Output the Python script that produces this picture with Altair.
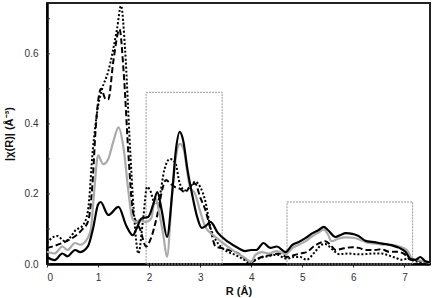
import altair as alt
import pandas as pd

# ---- data ----
black_r = [0,0.15,0.3,0.4,0.55,0.65,0.8,0.9,1.0,1.05,
           1.2,1.4,1.55,1.68,1.75,1.85,1.98,2.08,2.16,2.25,
           2.35,2.45,2.52,2.6,2.67,2.75,2.84,2.93,3.03,3.12,
           3.2,3.35,3.55,3.75,3.88,4.0,4.1,4.24,4.37,4.5,
           4.67,4.8,4.93,5.06,5.2,5.32,5.42,5.5,5.65,5.75,
           5.85,5.98,6.1,6.24,6.37,6.5,6.63,6.76,6.9,7.02,
           7.12,7.22,7.31,7.41,7.5]
black_y = [0.02,0.011,0.03,0.022,0.04,0.034,0.05,0.1,0.17,0.177,
           0.14,0.163,0.11,0.082,0.1,0.13,0.134,0.17,0.205,0.15,
           0.077,0.2,0.32,0.377,0.35,0.27,0.2,0.14,0.103,0.11,
           0.12,0.088,0.063,0.045,0.037,0.04,0.04,0.06,0.046,0.05,
           0.034,0.054,0.063,0.074,0.088,0.097,0.106,0.097,0.077,0.083,
           0.088,0.086,0.08,0.066,0.063,0.06,0.057,0.053,0.046,0.035,
           0.014,0.012,0.02,0.008,0.005]

gray_r = [0,0.15,0.3,0.4,0.55,0.65,0.8,0.86,0.92,1.0,
          1.1,1.2,1.3,1.4,1.5,1.6,1.67,1.75,1.82,1.94,
          2.04,2.12,2.2,2.28,2.35,2.45,2.52,2.6,2.67,2.8,
          2.9,3.0,3.1,3.2,3.3,3.5,3.69,3.88,4.0,4.08,
          4.2,4.35,4.5,4.67,4.8,4.93,5.06,5.2,5.32,5.42,
          5.5,5.57,5.7,5.85,6.0,6.15,6.3,6.45,6.6,6.75,
          6.9,7.05,7.15,7.3,7.5]
gray_y = [0.035,0.03,0.05,0.04,0.06,0.055,0.075,0.1,0.2,0.31,
          0.285,0.3,0.35,0.39,0.33,0.2,0.13,0.12,0.126,0.12,
          0.13,0.19,0.145,0.08,0.02,0.2,0.3,0.343,0.33,0.22,
          0.2,0.15,0.106,0.089,0.077,0.054,0.034,0.017,0.006,0.026,
          0.034,0.03,0.037,0.028,0.045,0.055,0.065,0.08,0.09,0.098,
          0.085,0.065,0.072,0.076,0.075,0.068,0.06,0.058,0.055,0.055,
          0.05,0.04,0.015,0.01,0.003]

dashed_r = [0,0.15,0.3,0.45,0.6,0.7,0.8,0.85,0.9,0.95,
            1.06,1.15,1.2,1.3,1.42,1.5,1.6,1.68,1.75,1.82,
            1.94,2.02,2.16,2.27,2.33,2.41,2.5,2.6,2.7,2.8,
            2.9,3.0,3.1,3.2,3.3,3.43,3.55,3.75,3.88,4.0,
            4.1,4.2,4.35,4.55,4.7,4.83,4.96,5.1,5.22,5.38,
            5.45,5.55,5.65,5.82,5.98,6.1,6.25,6.42,6.55,6.7,
            6.86,7.0,7.12,7.22,7.31,7.5]
dashed_y = [0.046,0.052,0.06,0.07,0.085,0.1,0.12,0.16,0.25,0.38,
            0.5,0.47,0.47,0.58,0.67,0.55,0.3,0.15,0.12,0.1,
            0.05,0.068,0.14,0.22,0.24,0.23,0.22,0.215,0.205,0.22,
            0.23,0.19,0.155,0.1,0.05,0.045,0.04,0.03,0.015,0.005,
            0.013,0.02,0.025,0.03,0.02,0.025,0.03,0.035,0.05,0.062,
            0.065,0.055,0.04,0.045,0.048,0.046,0.04,0.04,0.042,0.035,
            0.035,0.028,0.012,0.012,0.008,0.004]

dotted_r = [0,0.1,0.2,0.35,0.45,0.55,0.7,0.8,0.9,1.0,
            1.08,1.2,1.37,1.45,1.53,1.62,1.7,1.79,1.88,1.96,
            2.02,2.12,2.2,2.3,2.41,2.51,2.6,2.7,2.8,2.9,
            3.0,3.1,3.2,3.3,3.4,3.5,3.7,3.85,3.95,4.05,
            4.2,4.35,4.5,4.6,4.7,4.83,4.96,5.08,5.25,5.38,
            5.45,5.6,5.72,5.9,6.05,6.2,6.38,6.55,6.7,6.82,
            6.95,7.08,7.2,7.5]
dotted_y = [0.06,0.075,0.08,0.065,0.075,0.095,0.11,0.15,0.33,0.45,
            0.5,0.55,0.67,0.737,0.61,0.35,0.15,0.03,0.125,0.22,
            0.21,0.17,0.19,0.27,0.3,0.29,0.23,0.21,0.22,0.235,
            0.22,0.18,0.105,0.07,0.05,0.038,0.025,0.013,0.004,0.01,
            0.018,0.023,0.027,0.02,0.015,0.02,0.02,0.012,0.035,0.055,
            0.057,0.04,0.028,0.03,0.028,0.028,0.03,0.03,0.024,0.018,
            0.012,0.016,0.008,0.003]

# highlighted regions (dotted boxes)
box_x0 = [1.94, 4.70]
box_x1 = [3.43, 7.16]
box_y0 = [0.0, 0.0]
box_y1 = [0.49, 0.177]

y_ticks = [0, 0.1, 0.2, 0.3, 0.4, 0.5, 0.6, 0.7]
y_labels = [0, 0.2, 0.4, 0.6]
x_labels = [0, 1, 2, 3, 4, 5, 6, 7]

FONT = "Liberation Sans"
xs = alt.Scale(domain=[0, 7.5], nice=False, zero=False)
ys = alt.Scale(domain=[0, 0.745], nice=False)

x_axis = alt.Axis(title="R (Å)", values=x_labels, format="d",
                  grid=False, domainColor="black", domainWidth=2.5,
                  tickColor="#333", tickSize=3, labelFont=FONT,
                  labelFontSize=10, labelColor="#333", labelPadding=5,
                  titleFont=FONT, titleFontSize=11, titleFontWeight="bold",
                  titleColor="#111", titlePadding=3)
y_axis = alt.Axis(title="|χ(R)| (Å⁻³)", values=y_labels, grid=False,
                  domainColor="black", domainWidth=2.5, tickSize=0,
                  labelFont=FONT, labelFontSize=10, labelColor="#333",
                  labelPadding=9, titleFont=FONT, titleFontSize=11,
                  titleFontWeight="bold", titleColor="#111",
                  titlePadding=10)


def series(r, y):
    return pd.DataFrame({"R": r, "v": y})


boxes = alt.Chart(pd.DataFrame({"R": box_x0, "x1": box_x1,
                                "v": box_y0, "y1": box_y1})).mark_rect(
    fill=None, stroke="#999999", strokeWidth=1, strokeDash=[2, 1]
).encode(
    x=alt.X("R:Q", scale=xs, axis=x_axis),
    x2="x1:Q",
    y=alt.Y("v:Q", scale=ys, axis=y_axis),
    y2="y1:Q",
)

ticks = alt.Chart(pd.DataFrame({"v": y_ticks})).mark_rule(color="#333", strokeWidth=1).encode(
    y=alt.Y("v:Q", scale=ys, axis=y_axis),
    x=alt.value(0),
    x2=alt.value(3),
)


def line(r, y, color, width, dash=None):
    kw = dict(color=color, strokeWidth=width, interpolate="monotone")
    if dash:
        kw["strokeDash"] = dash
    return alt.Chart(series(r, y)).mark_line(**kw).encode(
        x=alt.X("R:Q", scale=xs, axis=x_axis),
        y=alt.Y("v:Q", scale=ys, axis=y_axis),
    )


chart = alt.layer(
    boxes,
    ticks,
    line(dotted_r, dotted_y, "black", 2, [2, 2]),
    line(dashed_r, dashed_y, "black", 2, [6, 3]),
    line(gray_r, gray_y, "#aaaaaa", 2.2),
    line(black_r, black_y, "black", 2.2),
).properties(
    width=383, height=261,
    background="white",
    autosize=alt.AutoSizeParams(type="none"),
    padding={"left": 47, "top": 3, "right": 3, "bottom": 34},
).configure_view(
    stroke="#222", strokeWidth=2
)

chart.save("out.html", embed_options={"renderer": "svg", "actions": False})
